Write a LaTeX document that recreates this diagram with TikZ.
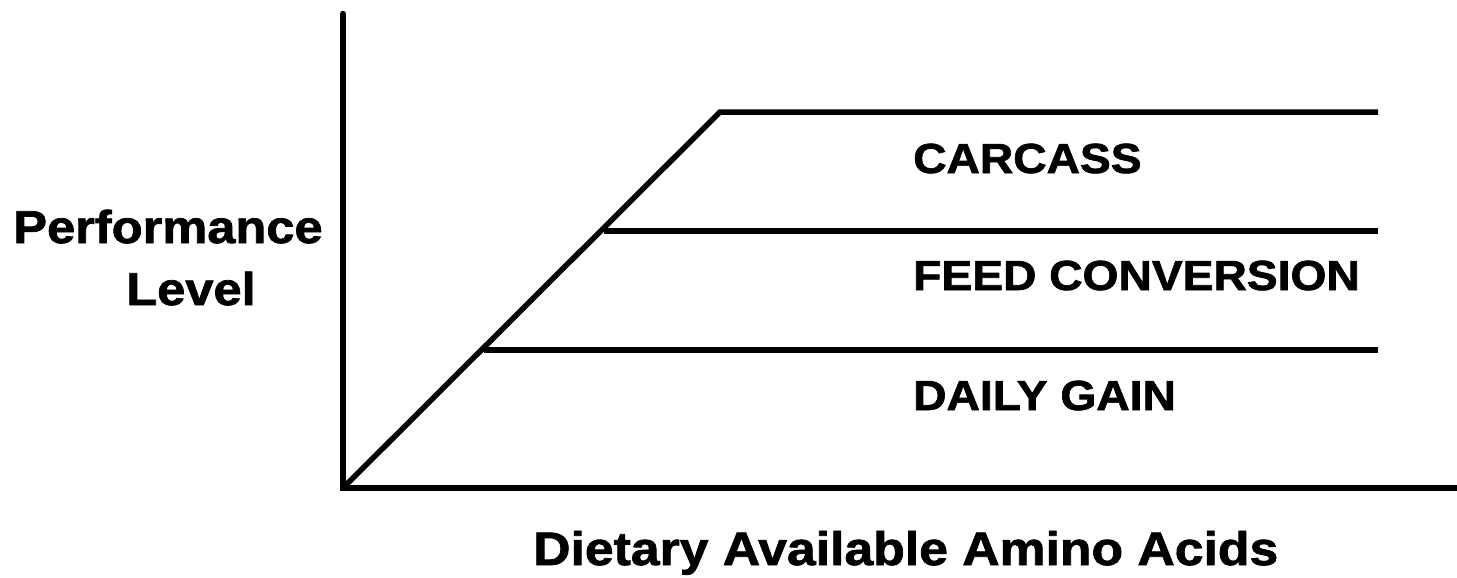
\documentclass[tikz,border=0pt]{standalone}
\usepackage{fontspec}
\setmainfont{Liberation Sans}[FakeStretch=1.1,BoldFeatures={FakeBold=1.6}]
\begin{document}
\begin{tikzpicture}[x=1pt,y=-1pt,
  axisline/.style={line width=6.5pt,line cap=round,line join=miter},
  curveline/.style={line width=5.5pt,line join=miter},
  lab/.style={inner sep=0pt,anchor=base west,font=\bfseries\fontsize{42}{42}\selectfont},
  biglab/.style={inner sep=0pt,anchor=base,font=\bfseries\fontsize{46}{46}\selectfont}]
\useasboundingbox (0,0) rectangle (1457,578);
\coordinate (top) at (343,14);
\coordinate (origin) at (343,488);
\coordinate (xend) at (1457,488);
\coordinate (k1) at (484,350);
\coordinate (k2) at (604,231);
\coordinate (k3) at (720,112);
\coordinate (e1) at (1378,350);
\coordinate (e2) at (1378,231);
\coordinate (e3) at (1378,112);
\draw[axisline] (top) -- (origin) -- (xend);
\draw[curveline] (origin) -- (k3) -- (e3);
\draw[curveline] (k2) -- (e2);
\draw[curveline] (k1) -- (e1);
\node[lab] (carcass) at (913,173) {CARCASS};
\node[lab] (feed) at (913,290) {FEED CONVERSION};
\node[lab] (daily) at (913,410) {DAILY GAIN};
\node[biglab] (perf) at (168,243) {Performance};
\node[biglab] (level) at (191,305) {Level};
\node[inner sep=0pt,anchor=base west,font=\bfseries\fontsize{47}{47}\selectfont] (xlab) at (533,565) {Dietary Available Amino Acids};
\end{tikzpicture}
\end{document}
